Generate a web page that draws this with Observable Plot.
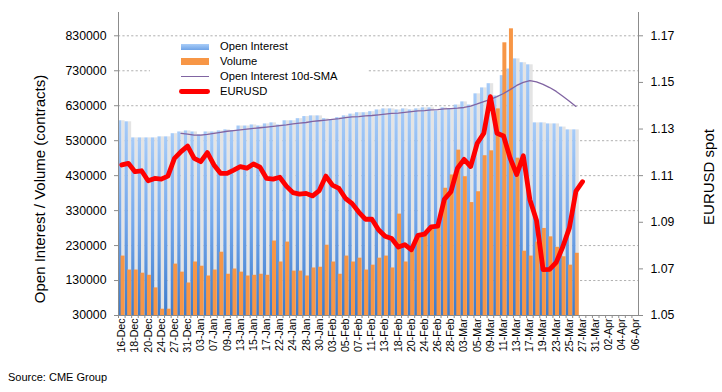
<!DOCTYPE html>
<html><head><meta charset="utf-8">
<script src="https://cdn.jsdelivr.net/npm/d3@7"></script>
<script src="https://cdn.jsdelivr.net/npm/@observablehq/plot@0.6"></script>
<style>
body{margin:0;background:#fff;font-family:'Liberation Sans',Arial,sans-serif;}
#wrap{position:relative;width:722px;height:392px;overflow:hidden;background:#fff}
#chart{position:absolute;left:0;top:0}
.ttl{position:absolute;white-space:nowrap;font-size:15px;color:#000;transform:translate(-50%,-50%) rotate(-90deg)}
#legend{position:absolute;left:150px;top:39px;width:218px;height:63px;background:#fff}
.li{position:absolute;left:70px;font-size:11.2px;line-height:13px;transform:translateY(-50%);white-space:nowrap;color:#000}
.sw{position:absolute;left:31px;width:28px}
#caption{position:absolute;left:8px;top:370px;font-size:11px;line-height:14px;color:#000}
</style>
</head><body>
<div id="wrap">
  <div id="chart"></div>
  <div class="ttl" style="left:39px;top:189px">Open Interest / Volume (contracts)</div>
  <div class="ttl" style="left:708px;top:177px">EURUSD spot</div>
  <div id="legend">
    <div class="sw" style="top:5px;height:5.5px;background:linear-gradient(#a9cdf8,#6fa3e6)"></div>
    <div class="li" style="top:7px">Open Interest</div>
    <div class="sw" style="top:19px;height:6.5px;background:#f79646"></div>
    <div class="li" style="top:22px">Volume</div>
    <div class="sw" style="top:36.8px;height:1.3px;background:#8064a2"></div>
    <div class="li" style="top:37.3px">Open Interest 10d-SMA</div>
    <div class="sw" style="top:50px;height:4.8px;background:#ff0000;border-radius:2.4px;left:29px;width:31px"></div>
    <div class="li" style="top:52.3px">EURUSD</div>
  </div>
  <div id="caption">Source: CME Group</div>
</div>
<script>
// ---- data ----
const categories = [
 "16-Dec","17-Dec","18-Dec","19-Dec","20-Dec","23-Dec","24-Dec","26-Dec","27-Dec","30-Dec","31-Dec",
 "02-Jan","03-Jan","06-Jan","07-Jan","08-Jan","09-Jan","10-Jan","13-Jan","14-Jan","15-Jan","16-Jan","17-Jan","21-Jan","22-Jan","23-Jan","24-Jan","27-Jan","28-Jan","29-Jan","30-Jan","31-Jan",
 "03-Feb","04-Feb","05-Feb","06-Feb","07-Feb","10-Feb","11-Feb","12-Feb","13-Feb","14-Feb","18-Feb","19-Feb","20-Feb","21-Feb","24-Feb","25-Feb","26-Feb","27-Feb","28-Feb",
 "02-Mar","03-Mar","04-Mar","05-Mar","06-Mar","09-Mar","10-Mar","11-Mar","12-Mar","13-Mar","16-Mar","17-Mar","18-Mar","19-Mar","20-Mar","23-Mar","24-Mar","25-Mar","26-Mar","27-Mar","30-Mar","31-Mar",
 "01-Apr","02-Apr","03-Apr","04-Apr","05-Apr","06-Apr"
];
const openInterest = [
 587000,584000,538000,538000,538000,538000,541000,541000,550000,555000,
 558000,555000,547000,555000,555000,558000,561000,558000,572000,572000,
 575000,572000,578000,581000,575000,587000,587000,593000,599000,601000,
 601000,593000,590000,596000,601000,606000,610000,610000,613000,618000,
 621000,621000,618000,621000,618000,621000,624000,624000,615000,624000,
 621000,632000,641000,632000,664000,681000,693000,658000,716000,735000,
 764000,753000,747000,581000,581000,578000,578000,569000,561000,561000
];
const volume = [
 200000,160000,160000,151000,145000,109000,48000,48000,177000,154000,
 123000,183000,171000,143000,160000,211000,148000,163000,154000,143000,
 145000,148000,145000,243000,183000,240000,157000,157000,143000,166000,
 168000,231000,183000,148000,200000,183000,194000,160000,174000,194000,
 200000,166000,320000,183000,215000,255000,265000,279000,289000,394000,
 432000,503000,427000,353000,384000,487000,501000,621000,810000,850000,
 480000,214000,200000,240000,279000,255000,225000,198000,174000,208000
];
const smaStart = 9;
const sma10 = [
 551000,549000,546000,546000,548000,551000,554000,557000,559000,561000,
 563000,565000,567000,569000,571000,573000,575000,578000,580000,582000,
 585000,587000,589000,591000,593000,596000,598000,599000,601000,602000,
 604000,606000,608000,609000,611000,613000,615000,616000,618000,619000,
 621000,622000,623000,625000,629000,635000,642000,648000,656000,665000,
 676000,688000,697000,702000,698000,691000,682000,671000,657000,643000,628000
];
const eurusd = [
 1.1146,1.1153,1.1117,1.1121,1.1078,1.1088,1.1085,1.1098,1.1174,1.1203,
 1.1227,1.1174,1.1160,1.1199,1.1146,1.1110,1.1110,1.1124,1.1139,1.1132,
 1.1150,1.1136,1.1088,1.1085,1.1093,1.1055,1.1027,1.1021,1.1024,1.1013,
 1.1036,1.1098,1.1059,1.1045,1.1002,1.0980,1.0944,1.0913,1.0913,1.0868,
 1.0840,1.0830,1.0794,1.0804,1.0782,1.0844,1.0849,1.0880,1.0883,1.0998,
 1.1031,1.1132,1.1170,1.1139,1.1239,1.1282,1.1439,1.1282,1.1270,1.1175,
 1.1105,1.1185,1.0997,1.0909,1.0697,1.0698,1.0728,1.0795,1.0876,1.1034,1.1074
];
const leftTicks = [30000,130000,230000,330000,430000,530000,630000,730000,830000];
const rightTicks = [1.05,1.07,1.09,1.11,1.13,1.15,1.17];

// ---- scales mapping (dual axis) ----
const W=722,H=366,mL=118,mR=84,mT=12,mB=51;
const yBase=30000, yTop=896667, eurLo=1.05, eurHi=1.18;
const toLeft = e => yBase + (e-eurLo)/(eurHi-eurLo)*(yTop-yBase);
const fromLeft = v => eurLo + (v-yBase)/(yTop-yBase)*(eurHi-eurLo);

const bars = openInterest.map((v,i)=>({cat:categories[i], oi:v, vol:volume[i]}));
const eurData = eurusd.map((v,i)=>({cat:categories[i], v}));
const smaData = sma10.map((v,i)=>({cat:categories[i+smaStart], v}));
const bw = (W-mL-mR)/categories.length;
const axisGrey = "#8c8c8c";

const chart = Plot.plot({
  width:W, height:H, marginLeft:mL, marginRight:mR, marginTop:mT, marginBottom:mB,
  style:{fontFamily:"'Liberation Sans', Arial, sans-serif", fontSize:"12.3px", color:"#000", background:"transparent", overflow:"visible"},
  x:{type:"band", domain:categories, padding:0, axis:null},
  y:{domain:[yBase,yTop], axis:null},
  marks:[
    Plot.gridY(leftTicks.slice(1), {stroke:"#b0b0b0", strokeOpacity:1, strokeDasharray:"2.2,2.2"}),
    Plot.barY(bars, {x:"cat", y1:yBase, y2:"oi", fill:"#e4e4e4", insetLeft:3.3, insetRight:0}),
    Plot.barY(bars, {x:"cat", y1:yBase, y2:"oi", fill:"url(#oiGrad)", insetLeft:0, insetRight:3.3}),
    Plot.barY(bars, {x:"cat", y1:yBase, y2:"vol", fill:"#f79646", insetLeft:2.6, insetRight:0}),
    Plot.line(smaData, {x:"cat", y:"v", stroke:"#8064a2", strokeWidth:1.3}),
    Plot.line(eurData, {x:"cat", y:d=>toLeft(d.v), stroke:"#ff0000", strokeWidth:4.8, strokeLinejoin:"round", strokeLinecap:"round"}),
    Plot.ruleY([yBase], {stroke:axisGrey}),
    Plot.frame({anchor:"left", stroke:axisGrey}),
    Plot.frame({anchor:"right", stroke:axisGrey}),
    Plot.axisY(leftTicks, {anchor:"left", tickSize:4, tickPadding:8, tickFormat:d=>String(d), stroke:axisGrey, label:null}),
    Plot.axisY(rightTicks.map(toLeft), {anchor:"right", tickSize:4, tickPadding:8, tickFormat:d=>fromLeft(d).toFixed(2), stroke:axisGrey, label:null}),
    Plot.axisX(categories.filter((d,i)=>i%2===0), {anchor:"bottom", tickSize:0, tickPadding:3, tickRotate:-90, fontSize:10.6, label:null}),
    Plot.axisX(categories, {anchor:"bottom", tickSize:3, tickFormat:()=>"", dx:-bw/2, stroke:axisGrey, label:null})
  ]
});
const ns="http://www.w3.org/2000/svg";
const defs=document.createElementNS(ns,"defs");
defs.innerHTML='<linearGradient id="oiGrad" x1="0" y1="0" x2="0" y2="1"><stop offset="0" stop-color="#a6cbf8"/><stop offset="0.5" stop-color="#74a7ea"/><stop offset="1" stop-color="#3d7bcb"/></linearGradient>';
chart.insertBefore(defs, chart.firstChild);
document.getElementById("chart").appendChild(chart);
</script>
</body></html>
